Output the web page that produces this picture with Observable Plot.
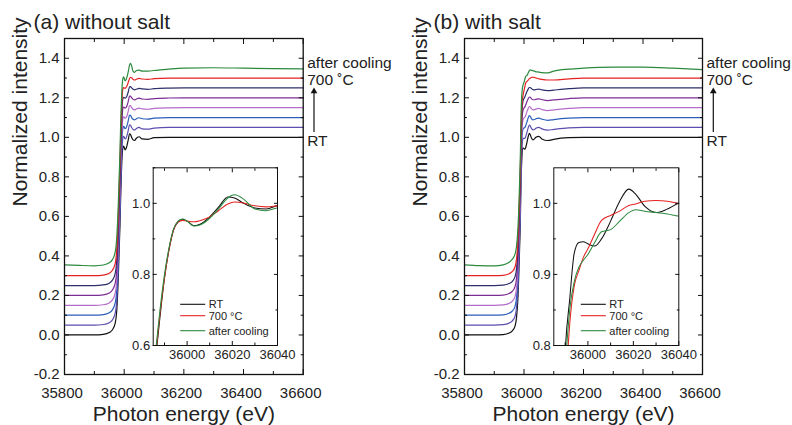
<!DOCTYPE html>
<html><head><meta charset="utf-8">
<script src="https://cdn.jsdelivr.net/npm/d3@7"></script>
<script src="https://cdn.jsdelivr.net/npm/@observablehq/plot@0.6"></script>
<style>
body{margin:0;background:#fff;}
#wrap{position:relative;width:792px;height:425px;overflow:hidden;background:#fff;}
</style></head><body><div id="wrap"></div>
<script>
// ---------- data ----------
const energy = [35800,35850,35900,35930,35950,35960,35970,35975,35980,35983,35986,35988,35990,35992,35994,35996,35998,36000,36003,36006,36010,36014,36018,36021,36025,36030,36035,36040,36050,36060,36080,36100,36150,36200,36300,36400,36500,36600];
const offsets = [0,0.05,0.10,0.15,0.20,0.25,0.30,0.35];
const colors = ["#111111","#5b4fb0","#2d5fb8","#b56cc9","#7d2e95","#2e2e6c","#e52222","#2b8a3e"];
const legendNames = ["RT","700 °C","after cooling"];
const legendIdx = [0,6,7];

// (a) without salt
const aRT = [0.000,0.000,0.000,0.003,0.012,0.025,0.060,0.120,0.280,0.420,0.560,0.680,0.790,0.870,0.925,0.948,0.955,0.950,0.937,0.942,0.962,0.990,1.018,1.015,1.000,0.987,0.984,0.994,1.003,0.992,0.990,0.998,1.000,1.000,1.000,1.000,1.000,1.000];
const aT1 = [0.000,0.000,0.000,0.003,0.012,0.025,0.060,0.120,0.280,0.420,0.560,0.680,0.790,0.870,0.925,0.948,0.955,0.952,0.942,0.945,0.962,0.988,1.013,1.012,1.000,0.990,0.987,0.993,1.000,0.993,0.991,0.997,1.000,1.000,1.000,1.000,1.000,1.000];
const aT2 = [0.000,0.000,0.000,0.003,0.012,0.026,0.062,0.122,0.285,0.425,0.565,0.685,0.790,0.870,0.925,0.948,0.955,0.953,0.944,0.947,0.962,0.987,1.012,1.011,1.000,0.991,0.988,0.993,0.999,0.994,0.992,0.997,1.000,1.000,1.000,1.000,1.000,1.000];
const aT3 = [0.000,0.000,0.000,0.003,0.012,0.026,0.062,0.122,0.285,0.425,0.565,0.685,0.790,0.870,0.925,0.948,0.954,0.953,0.946,0.949,0.962,0.985,1.010,1.010,1.000,0.992,0.989,0.993,0.998,0.994,0.992,0.996,0.999,1.000,1.000,1.000,1.000,1.000];
const aT4 = [0.000,0.000,0.000,0.003,0.012,0.026,0.062,0.124,0.288,0.428,0.568,0.688,0.790,0.870,0.925,0.948,0.953,0.952,0.947,0.950,0.962,0.984,1.008,1.008,1.000,0.992,0.989,0.993,0.998,0.994,0.992,0.996,0.999,1.000,1.000,1.000,1.000,1.000];
const aT5 = [0.000,0.000,0.000,0.003,0.012,0.026,0.062,0.124,0.288,0.428,0.568,0.688,0.790,0.870,0.925,0.947,0.952,0.951,0.948,0.951,0.962,0.982,1.006,1.007,1.000,0.993,0.990,0.993,0.998,0.995,0.993,0.996,0.999,1.000,1.000,1.000,1.000,1.000];
const a700 = [0.000,0.000,0.000,0.003,0.012,0.026,0.062,0.125,0.290,0.430,0.570,0.690,0.790,0.870,0.925,0.947,0.952,0.950,0.948,0.952,0.962,0.980,0.998,1.004,1.001,0.993,0.990,0.993,0.998,0.995,0.993,0.997,1.000,1.000,1.000,1.000,1.000,1.000];
const aAC = [0.005,0.002,0.000,0.004,0.015,0.030,0.070,0.140,0.300,0.440,0.580,0.700,0.800,0.875,0.928,0.950,0.956,0.950,0.936,0.940,0.958,0.985,1.015,1.024,1.012,0.984,0.979,0.987,0.990,0.985,0.985,0.988,0.995,1.000,1.002,1.000,0.998,0.996];

// (b) with salt
const bRT = [0.000,0.000,0.000,0.002,0.010,0.020,0.045,0.090,0.200,0.330,0.480,0.600,0.790,0.865,0.930,0.945,0.946,0.943,0.940,0.950,0.975,1.003,1.020,1.013,0.996,0.987,0.992,1.000,1.005,0.992,0.984,0.990,0.998,1.000,1.000,1.000,1.000,1.000];
const bT1 = [0.000,0.000,0.000,0.002,0.010,0.020,0.045,0.090,0.200,0.330,0.480,0.600,0.780,0.860,0.920,0.940,0.945,0.945,0.945,0.955,0.975,0.998,1.012,1.008,0.995,0.988,0.990,0.996,1.000,0.993,0.986,0.990,0.998,1.000,1.000,1.000,1.000,1.000];
const bT2 = [0.000,0.000,0.000,0.002,0.010,0.020,0.045,0.090,0.200,0.330,0.480,0.600,0.770,0.855,0.915,0.938,0.945,0.947,0.950,0.960,0.978,0.998,1.010,1.006,0.995,0.988,0.990,0.994,0.997,0.992,0.986,0.990,0.997,1.000,1.000,1.000,1.000,1.000];
const bT3 = [0.000,0.000,0.000,0.002,0.010,0.020,0.045,0.088,0.195,0.325,0.470,0.590,0.760,0.850,0.910,0.935,0.944,0.948,0.952,0.962,0.980,0.996,1.006,1.004,0.995,0.989,0.990,0.993,0.996,0.991,0.985,0.989,0.996,1.000,1.000,1.000,1.000,1.000];
const bT4 = [0.000,0.000,0.000,0.002,0.010,0.020,0.045,0.088,0.195,0.325,0.470,0.590,0.750,0.845,0.905,0.932,0.942,0.948,0.954,0.965,0.981,0.995,1.004,1.003,0.996,0.990,0.990,0.992,0.995,0.991,0.986,0.989,0.996,1.000,1.000,1.000,1.000,1.000];
const bT5 = [0.000,0.000,0.000,0.002,0.010,0.020,0.045,0.087,0.192,0.318,0.460,0.575,0.740,0.840,0.900,0.928,0.940,0.947,0.955,0.967,0.982,0.994,1.002,1.002,0.997,0.991,0.990,0.992,0.994,0.990,0.986,0.989,0.996,1.000,1.000,1.000,1.000,1.000];
const b700 = [0.000,0.000,0.000,0.002,0.010,0.020,0.045,0.085,0.190,0.310,0.450,0.560,0.720,0.830,0.884,0.905,0.924,0.936,0.957,0.976,0.983,0.989,0.997,0.999,1.003,1.004,1.003,1.000,0.996,0.993,0.990,0.990,0.996,1.000,1.000,1.000,1.000,1.000];
const bAC = [0.005,0.001,0.000,0.005,0.018,0.032,0.060,0.100,0.200,0.310,0.460,0.580,0.760,0.850,0.890,0.910,0.920,0.928,0.945,0.960,0.963,0.975,0.987,0.991,0.989,0.987,0.985,0.982,0.980,0.977,0.976,0.985,0.995,1.000,1.005,1.005,1.000,0.993];

const noSalt = [aRT,aT1,aT2,aT3,aT4,aT5,a700,aAC];
const withSalt = [bRT,bT1,bT2,bT3,bT4,bT5,b700,bAC];

// ticks
const xTicksMain = [35800,36000,36200,36400,36600];
const xMinorMain = [35900,36100,36300,36500];
const yTicksMain = [-0.2,0.0,0.2,0.4,0.6,0.8,1.0,1.2,1.4];
const yMinorMain = [-0.1,0.1,0.3,0.5,0.7,0.9,1.1,1.3];
const xTicksInset = [36000,36020,36040];
const xMinorInset = [35990,36010,36030];
const yTicksInsetA = [0.6,0.8,1.0];
const yMinorInsetA = [0.7,0.9,1.1];
const yTicksInsetB = [0.8,0.9,1.0];
const yMinorInsetB = [0.85,0.95];

// ---------- drawing ----------
const FONT = "'Liberation Sans', Arial, Helvetica, sans-serif";
const wrap = document.getElementById("wrap");
const f1 = d => d.toFixed(1).replace("\u2212","-");

function boxAxes(o) {
  const m = [];
  m.push(Plot.axisX(o.xMaj, {anchor:"bottom", tickSize:0, tickPadding:o.padX, tickFormat:o.fmtX, label:null, fontSize:o.fs, fill:"#222", dx:o.dxX||0}));
  m.push(Plot.axisY(o.yMaj, {anchor:"left", tickSize:0, tickPadding:o.padY, tickFormat:o.fmtY, label:null, fontSize:o.fs, fill:"#222"}));
  for (const a of ["bottom","top"]) {
    m.push(Plot.axisX(o.xMaj, {anchor:a, tickSize:-o.maj, fill:"none", stroke:"#111", label:null}));
    m.push(Plot.axisX(o.xMin, {anchor:a, tickSize:-o.min, fill:"none", stroke:"#111", label:null}));
  }
  for (const a of ["left","right"]) {
    m.push(Plot.axisY(o.yMaj, {anchor:a, tickSize:-o.maj, fill:"none", stroke:"#111", label:null}));
    m.push(Plot.axisY(o.yMin, {anchor:a, tickSize:-o.min, fill:"none", stroke:"#111", label:null}));
  }
  return m;
}

function place(svg, left, top) {
  svg.style.position = "absolute";
  svg.style.left = left + "px";
  svg.style.top = top + "px";
  svg.style.overflow = "visible";
  svg.style.background = "transparent";
  svg.style.maxWidth = "none";
  wrap.appendChild(svg);
}

function makeMain(spectra, title, left, mL, mR) {
  const marks = [];
  spectra.forEach((vals, k) => {
    const rows = energy.map((e, i) => ({e, y: vals[i] + offsets[k]}));
    marks.push(Plot.line(rows, {x:"e", y:"y", stroke:colors[k], strokeWidth:1.2, curve:"monotone-x"}));
  });
  marks.push(Plot.frame({stroke:"#111", strokeWidth:1.3}));
  marks.push(...boxAxes({xMaj:xTicksMain, xMin:xMinorMain, yMaj:yTicksMain, yMin:yMinorMain,
    fmtX: d => String(d), fmtY: f1, fs:15, padX:13, padY:5, dxX:-2.5, maj:5, min:3}));
  marks.push(Plot.text([title], {frameAnchor:"top-left", textAnchor:"start", lineAnchor:"bottom", dx:-31, dy:-10, fontSize:21, fill:"#222"}));
  marks.push(Plot.text(["Normalized intensity"], {frameAnchor:"left", rotate:-90, dx:-44, fontSize:21, fill:"#222"}));
  marks.push(Plot.text(["Photon energy (eV)"], {frameAnchor:"bottom", lineAnchor:"bottom", dy:46, fontSize:21, fill:"#222"}));
  // right-side annotations
  marks.push(Plot.text(["after cooling"], {x:36600, y:1.35, dx:4, textAnchor:"start", lineAnchor:"bottom", fontSize:15.5, fill:"#222"}));
  marks.push(Plot.text(["700 \u02DAC"], {x:36600, y:1.30, dx:4, dy:6.5, textAnchor:"start", lineAnchor:"bottom", fontSize:15.5, fill:"#222"}));
  marks.push(Plot.text(["RT"], {x:36600, y:1.0, dx:4, dy:8.6, textAnchor:"start", lineAnchor:"bottom", fontSize:15.5, fill:"#222"}));
  marks.push(Plot.ruleX([36600], {y1:1.024, y2:1.233, dx:10.8, stroke:"#111", strokeWidth:1.2}));
  marks.push(Plot.dot([36600], {x:d=>d, y:1.233, dx:10.8, symbol:"triangle", r:2.5, fill:"#111", stroke:"none"}));
  const svg = Plot.plot({
    width:396, height:425,
    marginLeft:mL, marginRight:mR, marginTop:38, marginBottom:51,
    x:{domain:[35800,36600]},
    y:{domain:[-0.2,1.5]},
    style:{fontFamily:FONT, background:"transparent", overflow:"visible"},
    marks
  });
  place(svg, left, 0);
}

function makeInset(spectra, yDomain, yMaj, yMin, left, mL, mR) {
  const W = 160, H = 205, mT = 7.3, mB = 20;
  const marks = [Plot.frame({fill:"white", stroke:"none"})];
  legendIdx.forEach(k => {
    const rows = energy.map((e, i) => ({e, y: spectra[k][i]}));
    marks.push(Plot.line(rows, {x:"e", y:"y", stroke:colors[k], strokeWidth:1.05, curve:"monotone-x", clip:true}));
  });
  marks.push(Plot.frame({stroke:"#111", strokeWidth:1}));
  marks.push(...boxAxes({xMaj:xTicksInset, xMin:xMinorInset, yMaj, yMin,
    fmtX: d => String(d), fmtY: f1, fs:13, padX:4, padY:3, maj:4, min:2.5}));
  const svg = Plot.plot({
    width:W, height:H, marginLeft:mL, marginRight:mR, marginTop:mT, marginBottom:mB,
    x:{domain:[35985,36040]},
    y:{domain:yDomain},
    style:{fontFamily:FONT, background:"transparent", overflow:"visible"},
    marks
  });
  // legend
  const g = d3.select(svg).append("g").attr("font-family", FONT).attr("font-size", 11).attr("text-anchor", "start");
  const fb = H - mB;
  const rowsY = [40.7, 29.3, 14.3];
  legendIdx.forEach((k, j) => {
    const y = fb - rowsY[j];
    g.append("line").attr("x1", mL + 27.5).attr("x2", mL + 52.5).attr("y1", y).attr("y2", y)
      .attr("stroke", colors[k]).attr("stroke-width", 1.1);
    g.append("text").attr("x", mL + 56).attr("y", y).attr("dy", "0.35em").attr("fill", "#222")
      .attr("text-anchor", "start").text(legendNames[j]);
  });
  place(svg, left, 160);
}

makeMain(noSalt, "(a) without salt", 0, 64, 93.3);
makeMain(withSalt, "(b) with salt", 396, 68, 90);
makeInset(noSalt, [0.6,1.1], yTicksInsetA, yMinorInsetA, 130, 22.7, 13);
makeInset(withSalt, [0.8,1.05], yTicksInsetB, yMinorInsetB, 530, 23.3, 11.7);
</script></body></html>
